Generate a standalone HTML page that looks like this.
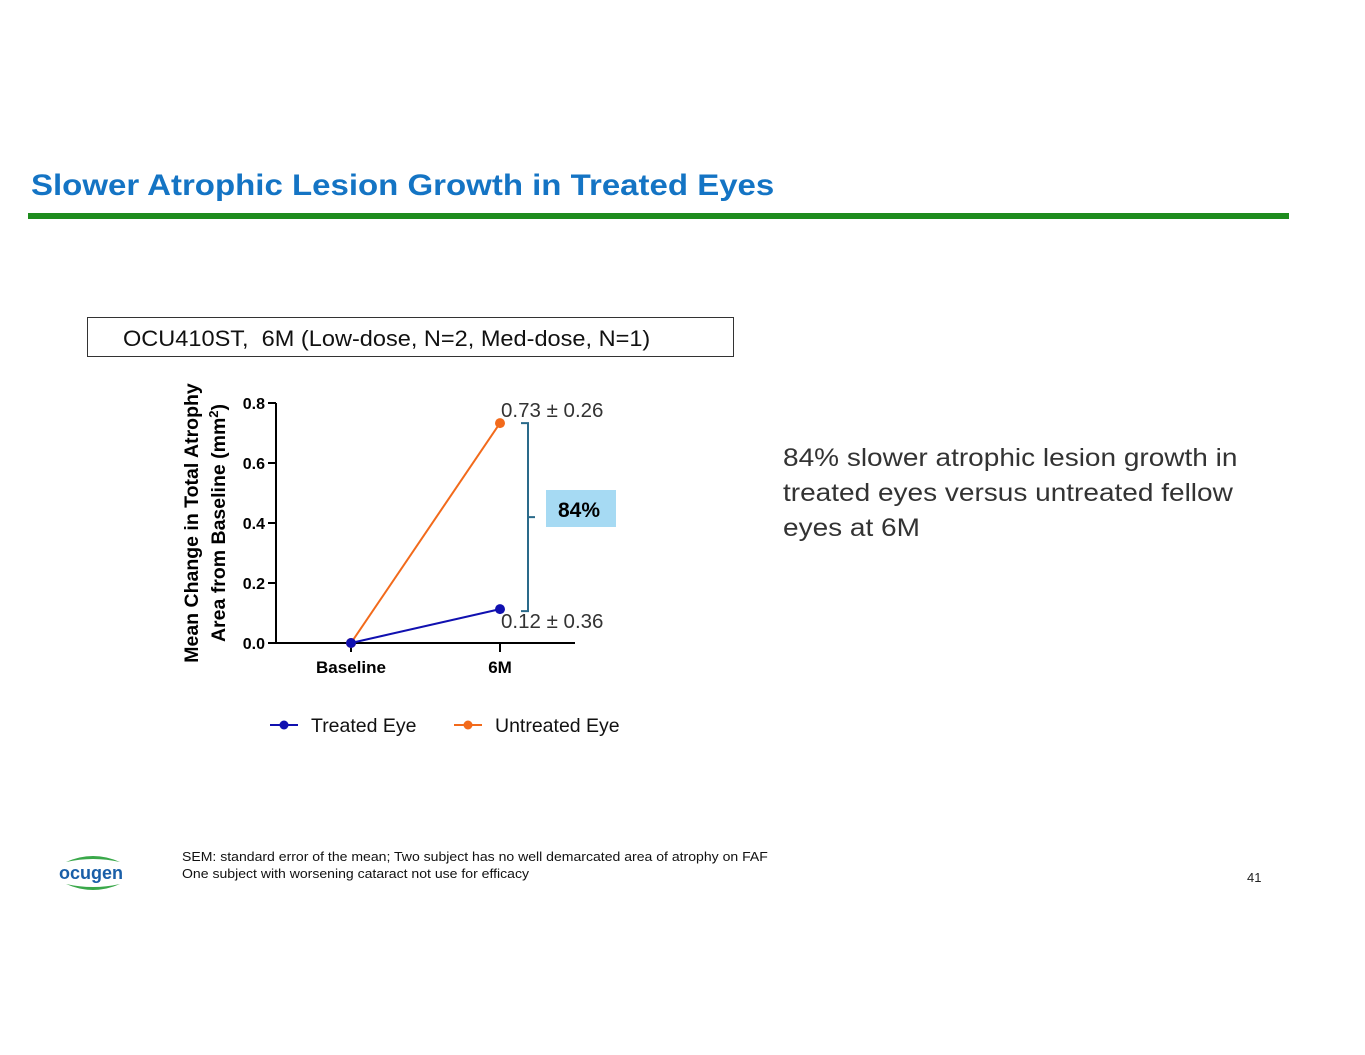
<!DOCTYPE html>
<html><head><meta charset="utf-8"><style>
body{margin:0;width:1365px;height:1055px;background:#fff;font-family:"Liberation Sans",sans-serif;position:relative;overflow:hidden}
.abs{position:absolute}
.sx{transform-origin:left top;white-space:nowrap}
</style></head><body>
<div class="abs sx" style="left:31px;top:169px;font-size:30px;font-weight:bold;color:#1474c4;transform:scaleX(1.1)">Slower Atrophic Lesion Growth in Treated Eyes</div>
<div class="abs" style="left:28px;top:213px;width:1261px;height:6px;background:#1e8c1e"></div>
<div class="abs" style="left:87px;top:317px;width:647px;height:40px;border:1px solid #333;box-sizing:border-box"></div>
<div class="abs sx" style="left:123px;top:326px;font-size:22px;color:#111;transform:scaleX(1.07)">OCU410ST,&nbsp; 6M (Low-dose, N=2, Med-dose, N=1)</div>
<div class="abs sx" style="left:783px;top:441px;font-size:25px;line-height:35px;color:#333;transform:scaleX(1.12)">84% slower atrophic lesion growth in<br>treated eyes versus untreated fellow<br>eyes at 6M</div>
<svg class="abs" style="left:0;top:0" width="1365" height="1055">
<g id="chart"></g>
</svg>
<div class="abs sx" style="left:182px;top:848px;font-size:13px;line-height:17px;color:#111;transform:scaleX(1.08)">SEM: standard error of the mean; Two subject has no well demarcated area of atrophy on FAF<br>One subject with worsening cataract not use for efficacy</div>
<div class="abs" style="left:58px;top:852px;width:70px;height:42px">
<svg width="70" height="42"><path d="M8 10 Q35 -2 62 10 Q35 4 8 10Z" fill="#3aa84a"/><path d="M8 32 Q35 44 62 32 Q35 38 8 32Z" fill="#3aa84a"/></svg>
<div class="abs" style="left:1px;top:11px;font-size:18px;font-weight:bold;color:#1a5fa8">ocugen</div></div>
<div class="abs" style="left:1247px;top:870px;font-size:13px;color:#222">41</div>
<script>
const categories=["Baseline","6M"];
const treated=[0,0.113];
const untreated=[0,0.733];
const yTicks=[0,0.2,0.4,0.6,0.8];
const yTickLabels=["0.0","0.2","0.4","0.6","0.8"];
const labels=["0.12 ± 0.36","0.73 ± 0.26"];
const NS="http://www.w3.org/2000/svg";
const g=document.getElementById('chart');
const y=v=>643-v*300;
const x=i=>351+i*149;
function mk(t,a,txt){const e=document.createElementNS(NS,t);for(const k in a)e.setAttribute(k,a[k]);if(txt!==undefined)e.textContent=txt;g.appendChild(e);return e;}
let e;
e=mk('line',{x1:276,y1:643,x2:575,y2:643,stroke:'#000','stroke-width':2});


e=mk('line',{x1:276,y1:y(0.8),x2:276,y2:644,stroke:'#000','stroke-width':2});


yTicks.forEach((v,i)=>{
 mk('line',{x1:268,y1:y(v),x2:276,y2:y(v),stroke:'#000','stroke-width':2});
 e=mk('text',{x:265,y:y(v)+6,'text-anchor':'end','font-size':16,'font-weight':'bold'},yTickLabels[i]);
 
 
});
categories.forEach((c,i)=>{
 mk('line',{x1:x(i),y1:643,x2:x(i),y2:652,stroke:'#000','stroke-width':2});
 e=mk('text',{x:x(i),y:673,'text-anchor':'middle','font-size':17,'font-weight':'bold'},c);
 
 
});
e=mk('text',{transform:'translate(198,523) rotate(-90)','text-anchor':'middle','font-size':19.5,'font-weight':'bold'},'Mean Change in Total Atrophy');


e=mk('text',{transform:'translate(225,523) rotate(-90)','text-anchor':'middle','font-size':19.5,'font-weight':'bold'});
e.innerHTML='Area from Baseline (mm<tspan dy="-7" font-size="13">2</tspan><tspan dy="7">)</tspan>';


[[untreated,'#f26a1b','untreated-series'],[treated,'#1010b0','treated-series']].forEach(([d,c,n])=>{
 e=mk('polyline',{points:d.map((v,i)=>x(i)+','+y(v)).join(' '),fill:'none',stroke:c,'stroke-width':2});
 
 
 d.forEach((v,i)=>{e=mk('circle',{cx:x(i),cy:y(v),r:5,fill:c});
 
 });
});
e=mk('text',{x:501,y:y(untreated[1])-6,'font-size':20.5,fill:'#333'},labels[1]);


e=mk('text',{x:501,y:y(treated[1])+19,'font-size':20.5,fill:'#333'},labels[0]);


const bt=y(untreated[1]),bb=y(treated[1])+2,bm=(bt+bb)/2;
e=mk('path',{d:`M521 ${bt} H528 V${bb} H521 M528 ${bm} H535`,fill:'none',stroke:'#2a6a8a','stroke-width':2});


e=mk('rect',{x:546,y:490,width:70,height:37,fill:'#a6daf3'});


e=mk('text',{x:579,y:517,'text-anchor':'middle','font-size':21,'font-weight':'bold'},'84%');


[['#1010b0','Treated Eye',270,'legend-treated'],['#f26a1b','Untreated Eye',454,'legend-untreated']].forEach(([c,t,lx,n])=>{
 mk('line',{x1:lx,y1:725,x2:lx+28,y2:725,stroke:c,'stroke-width':2});
 mk('circle',{cx:lx+14,cy:725,r:4.5,fill:c});
 e=mk('text',{x:lx+41,y:732,'font-size':19.5,fill:'#111'},t);
 
 
});
</script>
</body></html>
